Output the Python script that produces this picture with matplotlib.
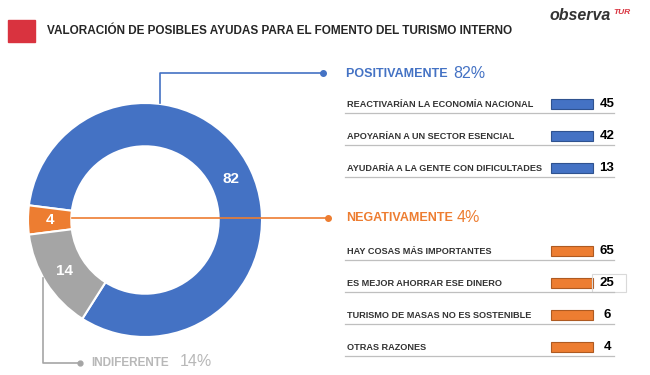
import matplotlib.pyplot as plt
from matplotlib.patches import Rectangle

# --- Data ---
donut_labels = ['POSITIVAMENTE', 'NEGATIVAMENTE', 'INDIFERENTE']
donut_values = [82, 4, 14]

pos_reasons = ['REACTIVARÍAN LA ECONOMÍA NACIONAL',
               'APOYARÍAN A UN SECTOR ESENCIAL',
               'AYUDARÍA A LA GENTE CON DIFICULTADES']
pos_values = [45, 42, 13]

neg_reasons = ['HAY COSAS MÁS IMPORTANTES',
               'ES MEJOR AHORRAR ESE DINERO',
               'TURISMO DE MASAS NO ES SOSTENIBLE',
               'OTRAS RAZONES']
neg_values = [65, 25, 6, 4]

# --- Style ---
BLUE = '#4472C4'
ORANGE = '#ED7D31'
GRAY = '#A5A5A5'
RED = '#D9333F'
DARK = '#262626'
plt.rcParams['font.family'] = ['Liberation Sans', 'DejaVu Sans']

W, H = 650, 375
fig = plt.figure(figsize=(6.5, 3.75), dpi=100)
fig.patch.set_facecolor('white')

# donut: centre (145, 220) px, radius 117 px
cx, cy, r = 145, 220, 117
pie_ax = fig.add_axes([(cx - r) / W, (H - cy - r) / H, 2 * r / W, 2 * r / H])
wedges, _, autotexts = pie_ax.pie(
    donut_values, colors=[BLUE, ORANGE, GRAY], startangle=-122.4,
    counterclock=True, radius=1.0,
    autopct=lambda p: f'{p:.0f}', pctdistance=0.815,
    wedgeprops=dict(width=0.37, edgecolor='white', linewidth=1.5))
for t in autotexts:
    t.set_color('white')
    t.set_fontweight('bold')
    t.set_fontsize(11)
pie_ax.set_xlim(-1, 1)
pie_ax.set_ylim(-1, 1)
pie_ax.set_aspect('equal')
pie_ax.axis('off')

# overlay in pixel coordinates
ov = fig.add_axes([0, 0, 1, 1], zorder=3)
ov.set_xlim(0, W)
ov.set_ylim(H, 0)
ov.axis('off')
ov.patch.set_alpha(0)

# header
ov.add_patch(Rectangle((8, 20), 27, 22, color=RED))
ov.text(47, 31, 'VALORACIÓN DE POSIBLES AYUDAS PARA EL FOMENTO DEL TURISMO INTERNO',
        fontsize=8.5, fontweight='bold', color=DARK, va='center')
ov.text(549, 15, 'observa', fontsize=11.5, fontweight='bold', style='italic',
        color='#333333', va='center')
ov.text(613, 12, 'TUR', fontsize=6, fontweight='bold', style='italic',
        color=RED, va='center')

# connectors
ov.plot([160, 160, 323], [103, 73, 73], color=BLUE, lw=1.2)
ov.plot([323], [73], 'o', color=BLUE, ms=4)
ov.plot([72, 328], [218, 218], color=ORANGE, lw=1.2)
ov.plot([328], [218], 'o', color=ORANGE, ms=4)
ov.plot([43, 43, 80], [278, 363, 363], color=GRAY, lw=1.2)
ov.plot([80], [363], 'o', color=GRAY, ms=3.5)

# section headers
ov.text(346, 74, f'{donut_labels[0]}  ', fontsize=9, fontweight='bold',
        color=BLUE, va='center')
ov.text(453, 73, f'{donut_values[0]}%', fontsize=11.5, color=BLUE, va='center')
ov.text(346, 218, f'{donut_labels[1]}', fontsize=9, fontweight='bold',
        color=ORANGE, va='center')
ov.text(457, 217, f'{donut_values[1]}%', fontsize=11.5, color=ORANGE, va='center')
ov.text(91, 363, donut_labels[2], fontsize=8.5, fontweight='bold',
        color='#B8B8B8', va='center')
ov.text(180, 362, f'{donut_values[2]}%', fontsize=11.5, color='#B8B8B8', va='center')

# reason rows
BAR_LEFT, BAR_LEN, BAR_H = 551, 42, 10


def draw_rows(reasons, values, y0, color, edge):
    ys = [y0 + i * 32 for i in range(len(reasons))]
    ov.barh(ys, [BAR_LEN] * len(ys), left=BAR_LEFT, height=BAR_H,
            color=color, edgecolor=edge, linewidth=0.8)
    for y, lab, v in zip(ys, reasons, values):
        ov.text(347, y + 0.5, lab, fontsize=6.6, fontweight='bold',
                color='#333333', va='center')
        ov.text(607, y, str(v), fontsize=9.5, fontweight='bold',
                color='black', va='center', ha='center')
        ov.plot([345, 614], [y + 9, y + 9], color='#BFBFBF', lw=0.9)
    return ys


draw_rows(pos_reasons, pos_values, 104, BLUE, '#2F528F')
neg_ys = draw_rows(neg_reasons, neg_values, 251, ORANGE, '#AE5A21')

# thin box around the second negative value
ov.add_patch(Rectangle((592, neg_ys[1] - 9), 34, 18, fill=False,
                       edgecolor='#D9D9D9', lw=0.8))

fig.savefig('out.png', dpi=100, facecolor='white')
